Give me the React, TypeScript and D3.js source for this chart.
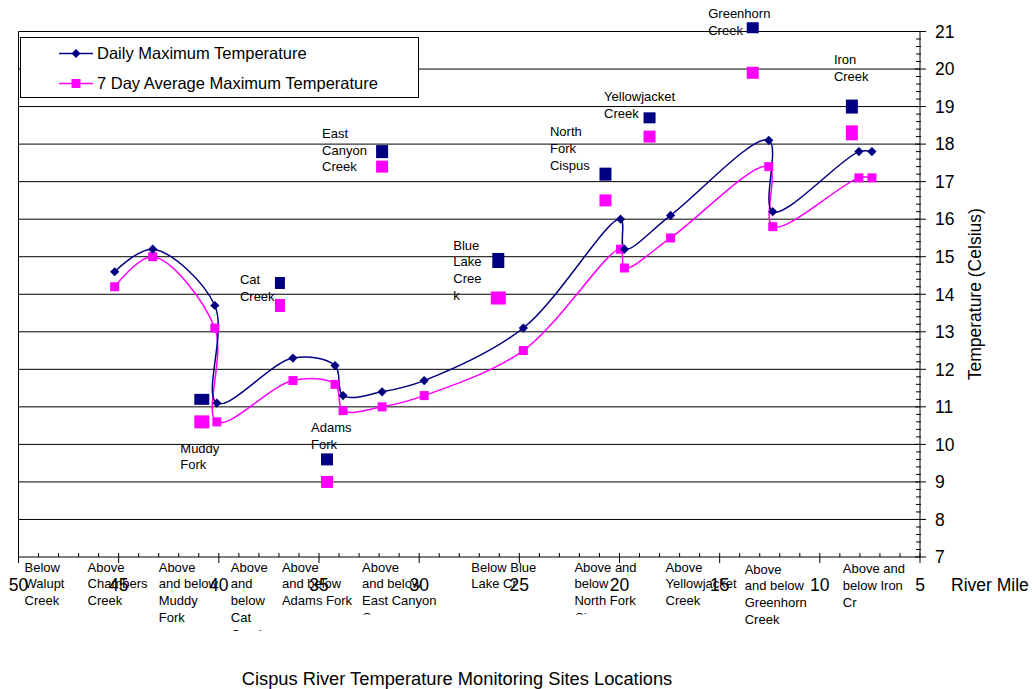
import React from "react";
import * as d3 from "d3";

const W = 1033;
const H = 689;

// Main-stem monitoring sites: river mile and temperatures (°C)
const mainMiles = [45.2, 43.3, 40.2, 40.1, 36.3, 34.2, 33.8, 31.85, 29.75, 24.8, 19.95, 19.75, 17.45, 12.55, 12.35, 8.05, 7.4];
const dailyMax = [14.6, 15.2, 13.7, 11.1, 12.3, 12.1, 11.3, 11.4, 11.7, 13.1, 16.0, 15.2, 16.1, 18.1, 16.2, 17.8, 17.8];
const sevenDayMax = [14.2, 15.0, 13.1, 10.6, 11.7, 11.6, 10.9, 11.0, 11.3, 12.5, 15.2, 14.7, 15.5, 17.4, 15.8, 17.1, 17.1];

// Tributary sites (plotted as stand-alone markers)
const tribNames = [
  ["Muddy", "Fork"],
  ["Cat", "Creek"],
  ["Adams", "Fork"],
  ["East", "Canyon", "Creek"],
  ["Blue", "Lake", "Cree", "k"],
  ["North", "Fork", "Cispus"],
  ["Yellowjacket", "Creek"],
  ["Greenhorn", "Creek"],
  ["Iron", "Creek"],
];
const tribMiles = [40.85, 36.95, 34.6, 31.85, 26.05, 20.7, 18.5, 13.35, 8.4];
const tribDailyMax = [11.2, 14.3, 9.6, 17.8, 14.9, 17.2, 18.7, 21.1, 19.0];
const tribSevenDay = [10.6, 13.7, 9.0, 17.4, 13.9, 16.5, 18.2, 19.9, 18.3];

// Site location captions under the river-mile axis
const siteLabels = [
  ["Below", "Walupt", "Creek"],
  ["Above", "Chambers", "Creek"],
  ["Above", "and below", "Muddy", "Fork"],
  ["Above", "and", "below", "Cat", "Creek"],
  ["Above", "and below", "Adams Fork"],
  ["Above", "and below", "East Canyon", "Cr"],
  ["Below Blue", "Lake Cr"],
  ["Above and", "below", "North Fork", "Cispus"],
  ["Above", "Yellowjacket", "Creek"],
  ["Above", "and below", "Greenhorn", "Creek"],
  ["Above and", "below Iron", "Cr"],
];
const siteLabelMiles = [49.7, 46.55, 43.0, 39.4, 36.85, 32.85, 27.4, 22.25, 17.7, 13.75, 8.85];

const mileTicks = [50, 45, 40, 35, 30, 25, 20, 15, 10, 5];
const tempTicks = [7, 8, 9, 10, 11, 12, 13, 14, 15, 16, 17, 18, 19, 20, 21];

const seriesNames = ["Daily Maximum Temperature", "7 Day Average Maximum Temperature"];

// Layout / styling
const NAVY = "#000080";
const MAGENTA = "#FF00FF";
const FONT = "'Liberation Sans', Arial, Helvetica, sans-serif";
// tributary caption offsets (px) from the daily-max marker, and marker sizes [w, h]
const tribLabelOffset = [
  [-21.5, 48.5], [-40, -3.5], [-16, -32], [-60, -18.5], [-45, -15.5],
  [-55.5, -42.5], [-45.5, -21.5], [-44.5, -14], [-18, -47],
];
const tribMarkerSize = [
  [15, 11, 15, 13], [10, 12, 10, 13], [12, 12, 12, 12], [12, 13, 12, 12], [12, 15, 15, 13],
  [12, 13, 12, 12], [12, 11, 12, 12], [12, 11, 12, 12], [12, 14, 12, 15],
];
// visible depth (px below first line) of each caption box; 0 = unclipped
const siteLabelClip = [0, 0, 0, 64, 0, 47.5, 0, 47.5, 0, 0, 0];
const siteLabelDrop = [0, 0, 0, 0, 0, 0, 0, 0, 0, 2, 1.5];

export default function App() {
  const x = d3.scaleLinear().domain([50, 5]).range([18.5, 920]);
  const y = d3.scaleLinear().domain([7, 21]).range([557, 31.5]);
  const left = x(50);
  const right = x(5);
  const bottom = y(7);

  const curve = d3.curveCatmullRom.alpha(0.5);
  const lineFor = (vals: number[]) =>
    d3
      .line<number>()
      .x((_, i) => x(mainMiles[i]))
      .y((d) => y(d))
      .curve(curve)(vals) || "";

  const diamond = (cx: number, cy: number, r: number) =>
    `M${cx},${cy - r}L${cx + r},${cy}L${cx},${cy + r}L${cx - r},${cy}Z`;

  const minorMiles = d3.range(49, 5, -1).filter((m) => m % 5 !== 0);
  const minorTemps = d3.range(7.2, 21, 0.2).filter((t) => Math.abs(t - Math.round(t)) > 0.01);

  const lineGap = 16.8;

  return (
    <svg
      width={W}
      height={H}
      style={{ position: "absolute", left: 0, top: 0, background: "#fff" }}
      fontFamily={FONT}
    >
      <defs>
        {siteLabels.map((_, i) =>
          siteLabelClip[i] > 0 ? (
            <clipPath id={`site-clip-${i}`} key={i}>
              <rect x={x(siteLabelMiles[i]) - 4} y={bottom} width={130} height={567 - bottom + siteLabelClip[i]} />
            </clipPath>
          ) : null
        )}
      </defs>

      {/* horizontal gridlines */}
      {tempTicks.slice(1).map((t) => (
        <line key={t} x1={left} x2={right} y1={y(t)} y2={y(t)} stroke="#000" strokeWidth={1} />
      ))}

      {/* left frame line and bottom axis */}
      <line x1={left} x2={left} y1={y(21)} y2={bottom + 6} stroke="#000" />
      <line x1={left} x2={right} y1={bottom} y2={bottom} stroke="#000" />
      {minorMiles.map((m) => (
        <line key={m} x1={x(m)} x2={x(m)} y1={bottom - 4} y2={bottom} stroke="#000" />
      ))}
      {mileTicks.map((m) => (
        <line key={m} x1={x(m)} x2={x(m)} y1={bottom - 4} y2={bottom + 6} stroke="#000" />
      ))}

      {/* right temperature axis */}
      <line x1={right} x2={right} y1={y(21)} y2={bottom} stroke="#000" />
      {minorTemps.map((t) => (
        <line key={t.toFixed(1)} x1={right - 4} x2={right + 1} y1={y(t)} y2={y(t)} stroke="#000" />
      ))}
      {tempTicks.map((t) => (
        <line key={t} x1={right - 5} x2={right + 6} y1={y(t)} y2={y(t)} stroke="#000" />
      ))}
      {tempTicks.map((t) => (
        <text key={t} x={right + 15} y={y(t)} dy="0.36em" fontSize={17.5} fill="#000">
          {t}
        </text>
      ))}
      <text
        transform={`translate(${right + 61},${(y(21) + bottom) / 2}) rotate(-90)`}
        textAnchor="middle"
        fontSize={17.5}
        fill="#000"
      >
        Temperature (Celsius)
      </text>

      {/* legend */}
      <rect x={20.5} y={37.5} width={398} height={60} fill="#fff" stroke="#000" strokeWidth={1} />
      <line x1={59} x2={93} y1={53.5} y2={53.5} stroke={NAVY} strokeWidth={1.5} />
      <path d={diamond(76, 53.5, 4.5)} fill={NAVY} />
      <text x={97} y={53.5} dy="0.36em" fontSize={16.5} fill="#000">
        {seriesNames[0]}
      </text>
      <line x1={59} x2={93} y1={83.5} y2={83.5} stroke={MAGENTA} strokeWidth={1.5} />
      <rect x={71.5} y={79} width={9} height={9} fill={MAGENTA} />
      <text x={97} y={83.5} dy="0.36em" fontSize={16.5} fill="#000">
        {seriesNames[1]}
      </text>

      {/* main-stem series */}
      <path d={lineFor(sevenDayMax)} fill="none" stroke={MAGENTA} strokeWidth={1.5} />
      <path d={lineFor(dailyMax)} fill="none" stroke={NAVY} strokeWidth={1.5} />
      {sevenDayMax.map((v, i) => (
        <rect key={i} x={x(mainMiles[i]) - 4.5} y={y(v) - 4.5} width={9} height={9} fill={MAGENTA} />
      ))}
      {dailyMax.map((v, i) => (
        <path key={i} d={diamond(x(mainMiles[i]), y(v), 4.6)} fill={NAVY} />
      ))}

      {/* tributary markers and captions */}
      {tribMiles.map((m, i) => {
        const cx = x(m);
        const [nw, nh, pw, ph] = tribMarkerSize[i];
        const ny = y(tribDailyMax[i]);
        const py = y(tribSevenDay[i]);
        const [dx, dy] = tribLabelOffset[i];
        return (
          <g key={i}>
            <rect x={cx - nw / 2} y={ny - nh / 2} width={nw} height={nh} fill={NAVY} />
            <rect x={cx - pw / 2} y={py - ph / 2} width={pw} height={ph} fill={MAGENTA} />
            {tribNames[i].map((s, j) => (
              <text key={j} x={cx + dx} y={ny + dy + j * lineGap} dy="0.36em" fontSize={13} fill="#000">
                {s}
              </text>
            ))}
          </g>
        );
      })}

      {/* site captions under the axis */}
      {siteLabels.map((lines, i) => (
        <g key={i} clipPath={siteLabelClip[i] > 0 ? `url(#site-clip-${i})` : undefined}>
          {lines.map((s, j) => (
            <text
              key={j}
              x={x(siteLabelMiles[i])}
              y={567 + siteLabelDrop[i] + j * lineGap}
              dy="0.36em"
              fontSize={13}
              fill="#000"
            >
              {s}
            </text>
          ))}
        </g>
      ))}

      {/* river-mile tick labels */}
      {mileTicks.map((m) => (
        <text key={m} x={x(m)} y={585} dy="0.36em" textAnchor="middle" fontSize={17.5} fill="#000">
          {m}
        </text>
      ))}
      <text x={951} y={585} dy="0.36em" fontSize={17.5} fill="#000">
        River Mile
      </text>

      <text x={457} y={678} dy="0.36em" textAnchor="middle" fontSize={18.3} fill="#000">
        Cispus River Temperature Monitoring Sites Locations
      </text>
    </svg>
  );
}
